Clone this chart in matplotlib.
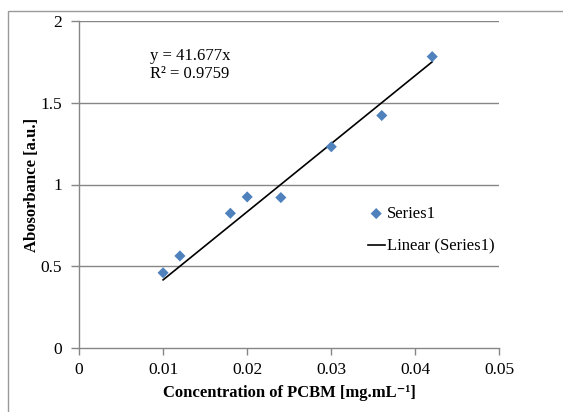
import numpy as np
import matplotlib.pyplot as plt
from matplotlib.patches import Rectangle

# Absorbance calibration for PCBM
concentration = [0.010, 0.012, 0.018, 0.020, 0.024, 0.030, 0.036, 0.042]
absorbance = [0.46, 0.563, 0.824, 0.924, 0.920, 1.231, 1.422, 1.782]
slope = 41.677
r2 = 0.9759

x_ticks = [0, 0.01, 0.02, 0.03, 0.04, 0.05]
x_tick_labels = ["0", "0.01", "0.02", "0.03", "0.04", "0.05"]
y_ticks = [0, 0.5, 1, 1.5, 2]
y_tick_labels = ["0", "0.5", "1", "1.5", "2"]

plt.rcParams["font.family"] = ["Liberation Serif", "DejaVu Serif"]
plt.rcParams["font.size"] = 12

W, H = 563, 412
fig = plt.figure(figsize=(W / 100, H / 100), dpi=100)
ax = fig.add_axes([79 / W, 1 - 348 / H, (499.5 - 79) / W, (348 - 21) / H])

grid_col = "#868686"
for yv in y_ticks[1:]:
    ax.axhline(yv, color=grid_col, lw=1.0, zorder=1)

ax.scatter(concentration, absorbance, marker="D", s=32, color="#4F81BD",
           edgecolors="none", zorder=3, label="Series1")

xfit = np.array([min(concentration), max(concentration)])
ax.plot(xfit, slope * xfit, color="black", lw=1.2, zorder=2, label="Linear (Series1)")

ax.set_xlim(0, 0.05)
ax.set_ylim(0, 2)
ax.set_xticks(x_ticks)
ax.set_xticklabels(x_tick_labels)
ax.set_yticks(y_ticks)
ax.set_yticklabels(y_tick_labels)
for s in ["top", "right"]:
    ax.spines[s].set_visible(False)
for s in ["left", "bottom"]:
    ax.spines[s].set_color(grid_col)
    ax.spines[s].set_linewidth(1.0)
ax.tick_params(axis="x", color=grid_col, length=5, width=1.0, pad=5, labelsize=12.5)
ax.tick_params(axis="y", color=grid_col, length=6, width=1.0, pad=6, labelsize=12.5)

ax.set_xlabel("Concentration of PCBM [mg.mL\u207b\u00b9]", fontweight="bold", labelpad=5)
ax.set_ylabel("Abosorbance [a.u.]", fontweight="bold")
ax.yaxis.set_label_coords(-0.092, 0.5)

ax.text(0.0084, 1.73, f"y = {slope}x\nR\u00b2 = {r2}", fontsize=12,
        va="center", ha="left", linespacing=1.2)

ax.legend(loc="center left", bbox_to_anchor=(0.687, 0.36), frameon=False,
          fontsize=12, handlelength=1.0, handletextpad=0.15, labelspacing=1.0,
          borderaxespad=0, borderpad=0)

# outer chart frame
fig.patches.append(Rectangle((8 / W, -0.01), 1.0, 1 - 11 / H + 0.01,
                             transform=fig.transFigure, fill=False,
                             edgecolor="#9a9a9a", lw=1.0))

fig.savefig("out.png", dpi=100)
